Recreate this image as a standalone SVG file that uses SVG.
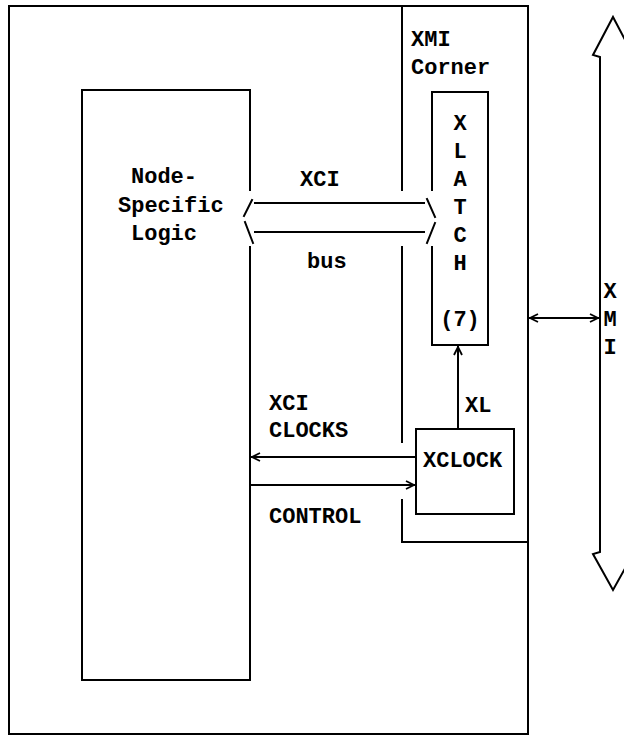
<svg xmlns="http://www.w3.org/2000/svg" width="624" height="736" viewBox="0 0 624 736">
<defs>
<style>
.ln{fill:none;stroke:#000;stroke-width:2;stroke-linecap:square}
.t{font-family:"Liberation Mono","DejaVu Sans Mono",monospace;font-size:22px;font-weight:bold;fill:#000}
.m{text-anchor:middle}
</style>
<marker id="ah" viewBox="0 0 10 10" refX="9" refY="5" markerWidth="10" markerHeight="10" markerUnits="userSpaceOnUse" orient="auto">
<path d="M1,1 L9,5 L1,9" fill="none" stroke="#000" stroke-width="1.8"/>
</marker>
</defs>
<rect width="624" height="736" fill="#fff"/>
<g id="outer">
<rect class="ln" x="9" y="6" width="519" height="728"/>
</g>
<g id="xmi-corner">
<path class="ln" d="M402,6 V190 M402,247 V442 M402,500 V542 H528"/>
<text class="t" x="411" y="46">XMI</text>
<text class="t" x="411" y="74">Corner</text>
</g>
<g id="node-specific-logic">
<path class="ln" d="M250,190 V90 H82 V680 H250 V247"/>
<text class="t" x="131" y="183">Node-</text>
<text class="t" x="118" y="212">Specific</text>
<text class="t" x="131" y="240">Logic</text>
</g>
<g id="xlatch">
<path class="ln" d="M432,190 V92 H488 V345 H432 V247"/>
<text class="t m" x="460" y="130">X</text>
<text class="t m" x="460" y="158">L</text>
<text class="t m" x="460" y="186">A</text>
<text class="t m" x="460" y="214">T</text>
<text class="t m" x="460" y="242">C</text>
<text class="t m" x="460" y="270">H</text>
<text class="t m" x="460" y="326">(7)</text>
</g>
<g id="xclock">
<rect class="ln" x="416" y="429" width="98" height="85"/>
<text class="t" x="423" y="467">XCLOCK</text>
</g>
<g id="xmi-bus">
<path class="ln" d="M600,552 V57 L593,55 L613,17 L633,55 L626,57 V552 L633,554 L613,590 L593,554 Z"/>
<text class="t m" x="610" y="298">X</text>
<text class="t m" x="610" y="326">M</text>
<text class="t m" x="610" y="354">I</text>
</g>
<g id="connectors">
<path class="ln" d="M244,216 L252,200 M255,203 H424 M427,199 L435,217"/>
<path class="ln" d="M245,222 L253,243 M255,232 H424 M435,223 L427,243"/>
<text class="t" x="300" y="186">XCI</text>
<text class="t" x="307" y="268">bus</text>
<line class="ln" x1="458" y1="428" x2="458" y2="347" marker-end="url(#ah)"/>
<text class="t" x="465" y="412">XL</text>
<line class="ln" x1="416" y1="457" x2="252" y2="457" marker-end="url(#ah)"/>
<line class="ln" x1="250" y1="485" x2="414" y2="485" marker-end="url(#ah)"/>
<text class="t" x="269" y="410">XCI</text>
<text class="t" x="269" y="437">CLOCKS</text>
<text class="t" x="269" y="523">CONTROL</text>
<line class="ln" x1="530" y1="318" x2="598" y2="318" marker-start="url(#ahs)" marker-end="url(#ah)"/>
</g>
<defs>
<marker id="ahs" viewBox="0 0 10 10" refX="1" refY="5" markerWidth="10" markerHeight="10" markerUnits="userSpaceOnUse" orient="auto">
<path d="M9,1 L1,5 L9,9" fill="none" stroke="#000" stroke-width="1.8"/>
</marker>
</defs>
</svg>
